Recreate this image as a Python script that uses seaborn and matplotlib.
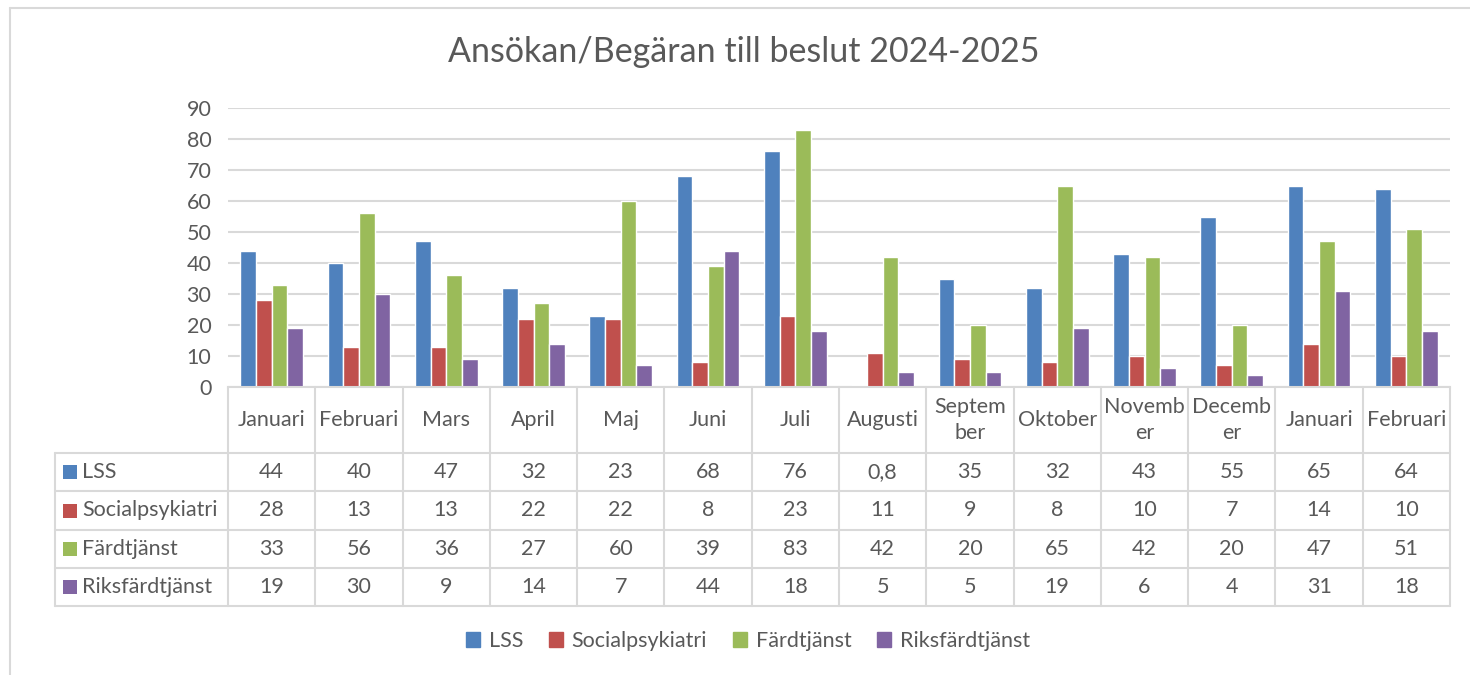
#!/usr/bin/env python3

import pandas as pd
import matplotlib
matplotlib.use("Agg")
import matplotlib.pyplot as plt
from matplotlib.patches import Rectangle
from matplotlib.lines import Line2D
from matplotlib.transforms import blended_transform_factory
import seaborn as sns

# ======================================================
# DATA
# ======================================================
TITLE = "Ansökan/Begäran till beslut 2024-2025"

MONTHS = ["Januari", "Februari", "Mars", "April", "Maj", "Juni", "Juli",
          "Augusti", "September", "Oktober", "November", "December",
          "Januari 2025", "Februari 2025"]
HEADER_LABELS = ["Januari", "Februari", "Mars", "April", "Maj", "Juni", "Juli",
                 "Augusti", "Septem\nber", "Oktober", "Novemb\ner", "Decemb\ner",
                 "Januari", "Februari"]

SERIES = ["LSS", "Socialpsykiatri", "Färdtjänst", "Riksfärdtjänst"]
LSS = [44, 40, 47, 32, 23, 68, 76, 0.8, 35, 32, 43, 55, 65, 64]
SOCIALPSYKIATRI = [28, 13, 13, 22, 22, 8, 23, 11, 9, 8, 10, 7, 14, 10]
FARDTJANST = [33, 56, 36, 27, 60, 39, 83, 42, 20, 65, 42, 20, 47, 51]
RIKSFARDTJANST = [19, 30, 9, 14, 7, 44, 18, 5, 5, 19, 6, 4, 31, 18]

YTICKS = [0, 10, 20, 30, 40, 50, 60, 70, 80, 90]

COLORS = {
    "LSS": "#4F81BD",
    "Socialpsykiatri": "#C0504D",
    "Färdtjänst": "#9BBB59",
    "Riksfärdtjänst": "#8064A2",
}

GRID = "#D9D9D9"
TEXT = "#595959"
FONT = ["Lato", "DejaVu Sans"]
FS = 15.5

# ======================================================
# LAYOUT (pixels in a 1470x675 figure)
# ======================================================
W, H = 1470, 675
AX_L, AX_R, AX_TOP, AX_BOT = 228, 1450, 108, 387
TAB_L = 55
ROW_Y = [387, 453, 491, 530, 568, 606]


def fy(py):
    return 1 - py / H


def fmt(v):
    if float(v).is_integer():
        return str(int(v))
    return str(v).replace(".", ",")


def main():
    values = [LSS, SOCIALPSYKIATRI, FARDTJANST, RIKSFARDTJANST]
    rows = []
    for name, vals in zip(SERIES, values):
        for m, v in zip(MONTHS, vals):
            rows.append({"Month": m, "Series": name, "Value": v})
    df = pd.DataFrame(rows)
    df["Month"] = pd.Categorical(df["Month"], categories=MONTHS, ordered=True)

    sns.set_style("white")
    plt.rcParams["font.family"] = FONT

    fig = plt.figure(figsize=(W / 100, H / 100), dpi=100)
    ax = fig.add_axes([AX_L / W, fy(AX_BOT), (AX_R - AX_L) / W, (AX_BOT - AX_TOP) / H])

    sns.barplot(
        data=df, x="Month", y="Value", hue="Series",
        hue_order=SERIES, palette=COLORS, width=0.72, saturation=1,
        edgecolor="white", linewidth=1.0, ax=ax, legend=False,
    )

    ax.set_xlim(-0.5, len(MONTHS) - 0.5)
    ax.set_ylim(0, 90)
    ax.set_yticks(YTICKS)
    ax.set_yticklabels([str(t) for t in YTICKS], fontsize=FS, color=TEXT)
    ax.tick_params(axis="y", length=0, pad=12)
    ax.set_xticks([])
    ax.set_xlabel("")
    ax.set_ylabel("")
    ax.yaxis.grid(True, color=GRID, linewidth=1.5)
    ax.set_axisbelow(True)
    for s in ["top", "right", "left"]:
        ax.spines[s].set_visible(False)
    ax.spines["bottom"].set_color(GRID)
    ax.spines["bottom"].set_linewidth(1.5)

    # --- data table under the axis ---
    tr = blended_transform_factory(ax.transData, fig.transFigure)
    unit = (AX_R - AX_L) / len(MONTHS)
    x_left = -0.5 - (AX_L - TAB_L) / unit
    x_right = len(MONTHS) - 0.5

    def hline(py, x0):
        fig.add_artist(Line2D([x0, x_right], [fy(py), fy(py)], transform=tr,
                              color=GRID, linewidth=1.5))

    def vline(x, py0, py1):
        fig.add_artist(Line2D([x, x], [fy(py0), fy(py1)], transform=tr,
                              color=GRID, linewidth=1.5))

    for py in ROW_Y[1:]:
        hline(py, x_left)
    for k in range(len(MONTHS) + 1):
        vline(k - 0.5, ROW_Y[0], ROW_Y[-1])
    vline(x_left, ROW_Y[1], ROW_Y[-1])

    for i, lab in enumerate(HEADER_LABELS):
        fig.text(i, fy((ROW_Y[0] + ROW_Y[1]) / 2), lab, transform=tr,
                 ha="center", va="center", fontsize=FS, color=TEXT,
                 linespacing=1.35)

    for r, (name, vals) in enumerate(zip(SERIES, values)):
        cy = fy((ROW_Y[r + 1] + ROW_Y[r + 2]) / 2)
        fig.add_artist(Rectangle((63 / W, cy - 7 / H), 14 / W, 14 / H,
                                 transform=fig.transFigure, color=COLORS[name],
                                 linewidth=0))
        fig.text(82 / W, cy, name, ha="left", va="center", fontsize=FS, color=TEXT)
        for i, v in enumerate(vals):
            fig.text(i, cy, fmt(v), transform=tr, ha="center", va="center",
                     fontsize=FS, color=TEXT)

    # --- title ---
    fig.text(744 / W, fy(52), TITLE, ha="center", va="center",
             fontsize=24.5, color=TEXT)

    # --- legend ---
    handles = [Rectangle((0, 0), 1, 1, color=COLORS[s]) for s in SERIES]
    fig.legend(handles, SERIES, loc="center", bbox_to_anchor=(748 / W, fy(641)),
               ncol=4, frameon=False, fontsize=FS, handlelength=0.65,
               handleheight=0.65, handletextpad=0.4, columnspacing=1.2,
               labelcolor=TEXT)

    # --- chart border (left and top) ---
    fig.add_artist(Line2D([10 / W, 10 / W], [0, fy(8)], transform=fig.transFigure,
                          color=GRID, linewidth=1.5))
    fig.add_artist(Line2D([10 / W, 1], [fy(8), fy(8)], transform=fig.transFigure,
                          color=GRID, linewidth=1.5))

    fig.savefig("out.png", dpi=100, facecolor="white")
    plt.close(fig)


if __name__ == "__main__":
    main()
